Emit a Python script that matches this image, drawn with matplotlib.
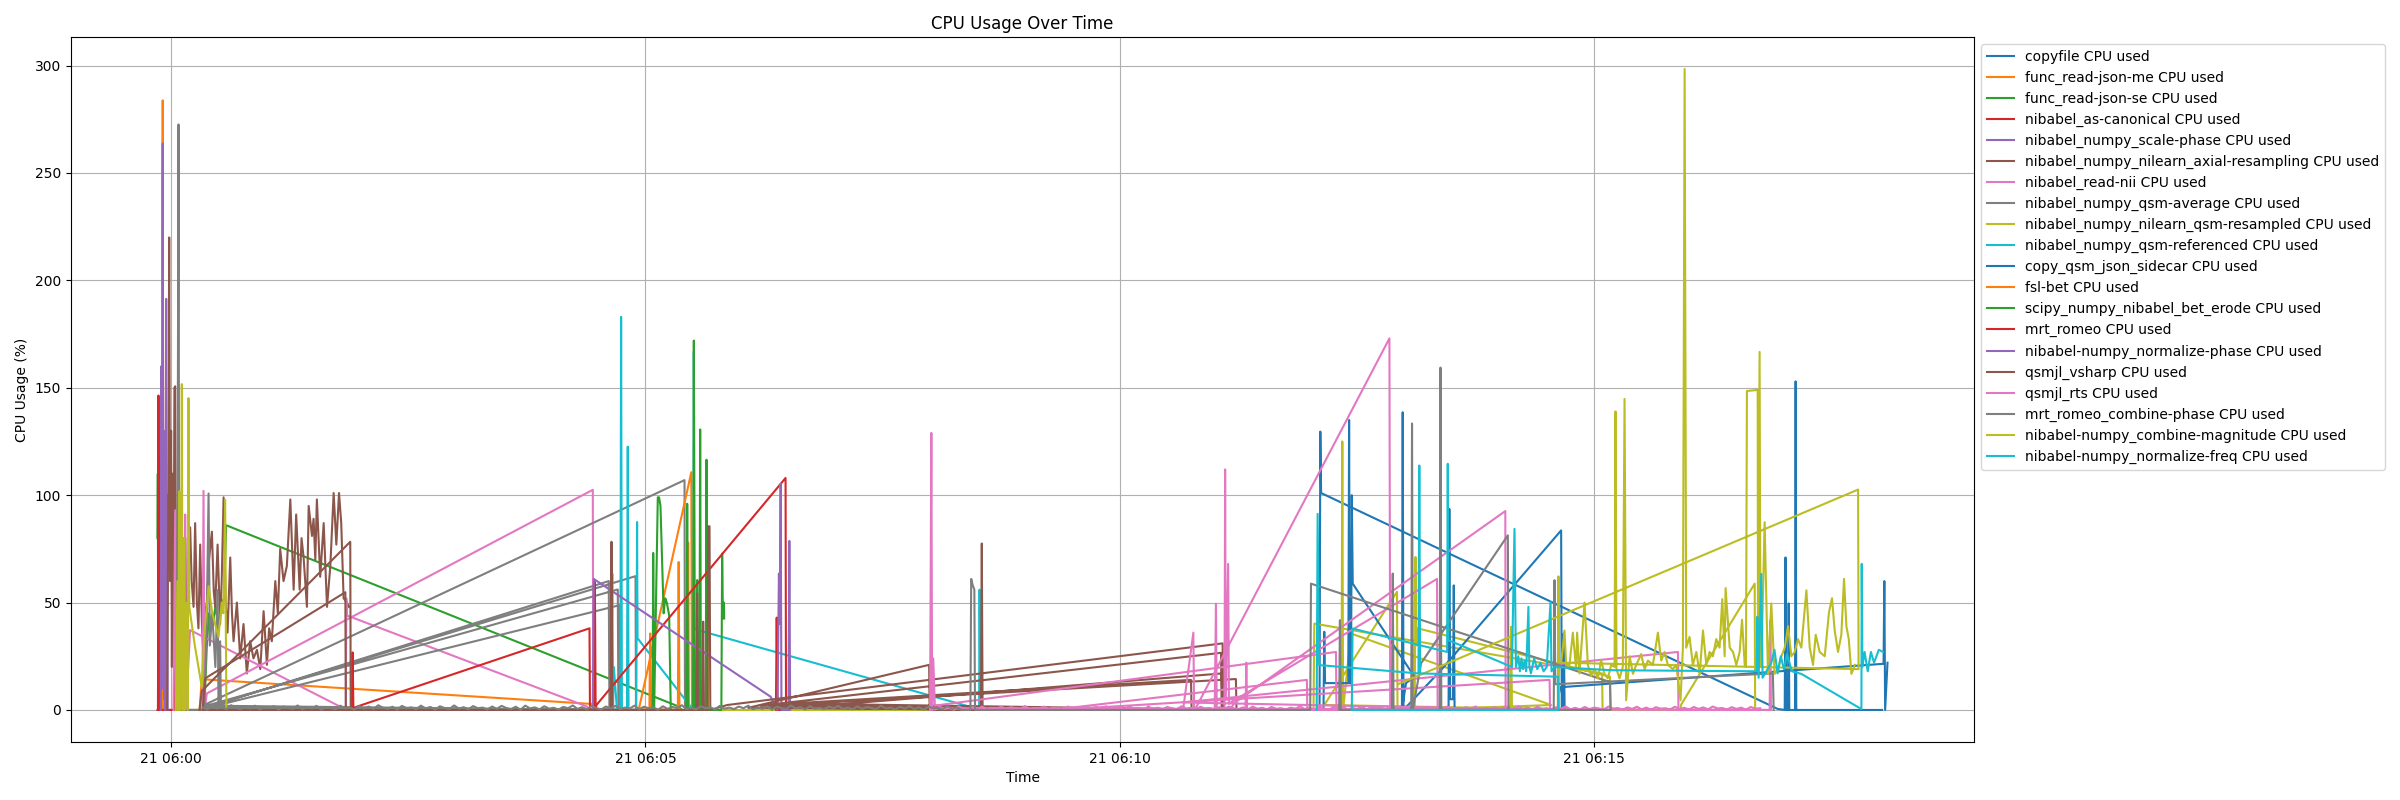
import numpy as np
import pandas as pd
import matplotlib
matplotlib.use('Agg')
import matplotlib.pyplot as plt

START = pd.Timestamp('2024-01-21 06:00:00')

LABELS = [
    'copyfile CPU used', 'func_read-json-me CPU used', 'func_read-json-se CPU used',
    'nibabel_as-canonical CPU used', 'nibabel_numpy_scale-phase CPU used',
    'nibabel_numpy_nilearn_axial-resampling CPU used', 'nibabel_read-nii CPU used',
    'nibabel_numpy_qsm-average CPU used', 'nibabel_numpy_nilearn_qsm-resampled CPU used',
    'nibabel_numpy_qsm-referenced CPU used', 'copy_qsm_json_sidecar CPU used',
    'fsl-bet CPU used', 'scipy_numpy_nibabel_bet_erode CPU used', 'mrt_romeo CPU used',
    'nibabel-numpy_normalize-phase CPU used', 'qsmjl_vsharp CPU used', 'qsmjl_rts CPU used',
    'mrt_romeo_combine-phase CPU used', 'nibabel-numpy_combine-magnitude CPU used',
    'nibabel-numpy_normalize-freq CPU used',
]

# times in seconds after 06:00:00, values in %
T0 = [722, 726.3, 726.8, 727.3, 1016, 1020.5, 1021, 1021.5, 1022.6, 1023, 1023.4, 1027, 1027.4, 1027.8, 1082]
V0 = [0, 0, 129.6, 101, 0.5, 0, 71, 0, 0, 49.6, 0, 0, 153, 0, 0]

T1 = [-7, -5.8, -5.3, -4.8, 18, 19.4, 266, 268]
V1 = [0, 0, 283.8, 0, 0, 14.3, 2.8, 0]

T2 = [-8.6, -8.4, -8.1, 21, 22.6, 24, 26, 28, 30, 32, 33.5, 34.8, 321, 323]
V2 = [80, 110, 0, 0, 30, 45, 38, 48, 40, 50, 52, 86, 1.6, 0]

T3 = [-8.6, -8.3, -8, -7.7, -7.2, -6.9, -6.6, 2.2, 2.6, 3]
V3 = [0, 0, 146.4, 0, 0, 119.4, 0, 0, 26.4, 0]

T4 = [-6.5, -6.2, -5.9, -5.6, -5.3, -5.0, -4.7, -4.4, -4.1, -3.8, -3.5, -3.1, -2.8, -2.5, -2.2]
V4 = [0, 160, 20, 140, 263.8, 10, 130, 5, 120, 0, 110, 191.4, 0, 100, 0]

T5 = [-2.5, -1.8, -1.2, -0.6, 0, 0.5, 0.9, 1.5, 2.1, 2.6, 3.1, 4, 5, 6, 7, 8, 9, 10, 11,
      12.05, 13, 14.2, 15.2, 16.3, 17.3, 18.4, 19.5, 20.5, 21.5, 22.6, 24, 25.8, 27, 27.9,
      29.4, 31, 32, 33.2, 34.5, 35.7, 37.4, 38.5, 39.5, 41.6, 43.7, 45.8, 47.9, 50, 52.1,
      54.3, 56.4, 58.5, 60.6, 62, 63.7, 65.9, 67.5, 69, 71.1, 73.2, 75.4, 77.5, 79.1, 81.3,
      82.5, 83.8, 85.9, 87, 89.1, 90.1, 91.2, 92.2, 94.3, 96.5, 98.6, 100.7, 102.8, 104.5,
      106.2, 107.6, 109.1, 111.2, 112.5]
V5 = [0, 90, 220, 60, 130, 20, 110, 30, 150, 150.7, 40, 0, 30, 0, 60, 5, 80, 10, 70,
      85, 60, 48, 87, 50, 38, 77, 40, 24, 45, 50, 70, 83, 55, 48, 77, 40, 60, 99, 50, 36, 71,
      45, 32, 50, 24, 40, 17, 32, 24, 28, 19, 46, 21, 38, 32, 60, 45, 75, 60, 67, 98, 56, 91,
      56, 80, 71, 48, 95, 81, 89, 70, 98, 62, 87, 48, 67, 101, 77, 101, 87, 52, 50, 48]

T6 = [1.5, 2.6, 3.2, 8.3, 8.9, 9.5, 12, 104.9, 110.5, 110.8, 111.2, 263, 264, 19.8, 20.5, 21.2, 22.6, 266.7, 267]
V6 = [0, 93, 0, 0, 91, 0, 37.2, 2.3, 0, 52, 44, 1.6, 0, 0, 102, 0, 7.7, 102.5, 0]

T7 = [3.5, 4.2, 4.7, 5.2, 21, 22.5, 23.7, 24.5, 26, 28, 29.4, 30, 31, 31.5, 20, 324.7, 325,
      21, 293.7, 294, 22, 276.8, 277.2, 22.5, 282.5, 282.9, 23, 283.8, 284.2]
V7 = [0, 120, 272.6, 0, 0, 40, 100.8, 30, 45, 20, 55.8, 0, 32, 0, 2, 107, 0,
      1, 62.3, 0, 1, 60, 0, 2, 56.1, 0, 1, 48.8, 0]

T8 = [3, 4, 4.5, 5.1, 5.6, 6.3, 6.8, 7.3, 8, 8.5, 9.5, 10.5, 11, 11.5, 15, 19.4, 21, 23.7,
      26, 30, 32, 33, 34.2, 34.6, 35,
      722.5, 723, 905, 905.3, 729.3, 775.3, 775.6, 740.2, 740.7, 741.2, 746.2, 872.8, 786.5,
      787, 787.4, 788.4, 910, 910.3, 847, 847.5, 848, 877, 877.4, 877.8,
      954.5, 955, 1001.5, 1001.8]
V8 = [0, 60, 0, 101.8, 0, 40, 151.7, 0, 80, 0, 50, 0, 145.2, 48, 30, 10.8, 35, 57.7,
      45, 34, 50, 45, 97.8, 40, 0,
      0, 40.2, 17, 0, 2.3, 55, 0, 0, 125, 0, 35.6, 2.3, 0,
      71.2, 30, 38, 15.5, 0, 0, 38.7, 0, 0, 62.2, 0,
      0, 2.5, 58.8, 0]

T9 = [278.5, 279, 279.5, 280, 282, 284.1, 284.6, 285.1, 288.3, 288.8, 289.3, 294.2, 294.7,
      295, 330.2, 330.6, 331.1, 511, 511.3, 511.8]
V9 = [0, 63.5, 0, 20, 0, 0, 183, 0, 0, 122.6, 0, 0, 87.5, 33.4, 0, 167, 37.6, 0.3, 56, 0]

T10 = [724, 728.8, 729.3, 729.8, 744.5, 745, 745.5, 746.2, 746.7, 747.3, 786.3, 781, 778.4,
       778.9, 779.4, 803.2, 879.1, 879.5, 807.9, 808.4, 808.9, 810.7, 811.2, 811.7, 880.3,
       880.8, 881.3, 879, 1083, 1083.5, 1084, 1085.5]
V10 = [0, 0, 36.4, 12.5, 12.5, 135, 12.5, 12.5, 100, 58.8, 15.5, 12.5, 0,
       138.6, 0, 18.6, 83.6, 0, 0, 93.6, 5, 5, 58, 0, 0,
       35.6, 0, 10.6, 21.5, 60, 0, 22]

T11 = [290, 302.5, 303, 303.5, 320.5, 321, 321.5, 295.8, 329, 329.4, 326.5, 327, 327.5, 338.5, 339, 339.5, 345]
V11 = [0, 0, 35.6, 0, 0, 68.9, 0, 0.3, 110.7, 0, 0, 78, 0, 0, 85, 0, 0]

T12 = [303, 304.5, 304.9, 305.5, 307.8, 308.6, 309.5, 310.5, 311.5, 312.5, 313.5, 315, 316,
       325.9, 326.4, 326.9, 330.1, 330.6, 331.1, 332.2, 332.7, 333.2, 334.1, 334.6, 335.1,
       338.1, 338.6, 339.1, 348, 348.5, 349, 349.6, 349.8]
V12 = [0, 0, 73.1, 0, 99, 99, 95, 70, 45, 52, 50, 44, 0,
       0, 96, 0, 0, 172, 0, 0, 60.5, 0, 0, 130.6, 0,
       0, 116.5, 0, 0, 72.8, 42.6, 50, 42.6]

T13 = [114.3, 114.8, 115.3, 117.7, 264.6, 264.9, 267.5, 268, 268.5, 269, 388.6, 388.9, 382.5, 383, 383.5]
V13 = [0, 26.8, 0, 1.6, 38, 0, 0, 59.6, 0, 2.3, 108, 0, 0, 43, 0]

T14 = [265, 266.7, 267.3, 379.1, 383.5, 384.4, 384.9, 385.5, 386, 390.5, 391, 391.5]
V14 = [0, 0, 61, 6.2, 0, 63.5, 40, 105.3, 0, 0, 78.7, 0]

T15 = [18, 19.4, 113.3, 113.6, 20, 21.5, 110.2, 110.5, 278, 278.5, 279, 332.2, 332.7, 333.2,
       336, 336.5, 337, 339.2, 339.7, 340.5, 341, 351.7, 665, 665.4, 372.8, 664, 664.4, 381,
       673.4, 673.8, 391.8, 645, 645.4, 365, 479.4, 479.7, 512.2, 512.7, 513.2, 395, 664.5, 664.8]
V15 = [0, 8.8, 78.3, 0, 0, 14.7, 54.8, 0, 0, 78.3, 0, 0, 54.3, 0,
       0, 41.1, 0, 0, 85.5, 85.5, 0, 2.3, 31, 0, 2, 26.6, 0, 2,
       14.4, 0, 3, 14, 0, 1, 21, 0, 0, 77.5, 0, 1, 17, 0]

T16 = [480, 480.8, 481.3, 482, 483, 736.7, 737,
       640, 646.5, 647, 648, 770.5, 771,
       660, 660.8, 661.3, 666.2, 666.6, 667, 668.5, 669, 800.6, 801,
       670, 672, 843.8, 844,
       557, 718.3, 718.6, 679.5, 680, 680.5,
       560, 871.8, 872.1,
       640, 953, 953.3, 1011, 1011.4, 1011.8]
V16 = [0, 129, 0, 24, 2, 27, 0,
       0, 36, 0, 0.8, 173, 0,
       0, 49.5, 0, 0, 112, 5, 68, 3, 61, 0,
       0, 3, 92.6, 0,
       0, 14, 0, 0, 22, 0,
       0, 14, 0,
       3.5, 27, 0, 0, 41.8, 0]

# low-level background samples (every 3 s)
P_FUZZ_START = 480
P_FUZZ_STEP = 3
P_FUZZ = [0.8, 0.2, 1.5, 0.5, 1.2, 0.1, 1.7, 0.7, 0.3, 1.4, 0.4, 1.6, 0.2, 1.0, 0.6, 1.5,
          0.3, 1.3, 0.8, 0.4, 1.8, 0.3, 1.0, 0.5, 1.6, 0.2, 1.1, 0.7, 0.2, 1.6, 0.6, 0.9,
          0.1, 1.4, 0.4, 1.3, 0.3, 1.7, 0.8, 0.4, 1.2, 0.1, 1.5, 0.6, 1.0, 0.2, 1.6, 0.5,
          1.1, 0.2, 1.4, 0.7, 0.3, 1.7, 0.5, 1.0, 0.2, 1.5, 0.6, 0.9, 0.1, 1.3, 0.4, 1.6,
          0.7, 0.3, 1.2, 0.1, 1.6, 0.5, 1.0, 0.2, 1.4, 0.5, 0.8, 0.2, 1.1, 0.6, 1.7, 0.4,
          1.0, 0.2, 1.5, 0.7, 0.1, 1.3, 0.6, 1.5, 0.3, 0.9, 0.5, 1.6, 0.2, 1.2, 0.6, 1.0,
          0.1, 1.4, 0.4, 1.1, 0.7, 1.8, 0.3, 0.8, 0.2, 1.5, 0.6, 1.1, 0.2, 1.6, 0.5, 0.9,
          0.3, 1.3, 0.6, 1.6, 0.2, 1.0, 0.4, 1.4, 0.1, 1.2, 0.7, 0.3, 1.7, 0.5, 1.1, 0.2,
          1.5, 0.5, 0.8, 0.2, 1.3, 0.6, 1.6, 0.3, 1.0, 0.2, 1.4, 0.4, 1.1, 0.7, 0.2, 1.6,
          0.6, 0.9, 0.1, 1.2, 0.5, 1.5, 0.3, 1.1, 0.1, 1.3, 0.6, 0.8, 0.2, 1.5, 0.4, 1.0,
          0.2, 1.4, 0.5, 1.2, 0.3, 1.6, 0.7, 0.9, 0.2, 1.3, 0.5, 1.1, 0.1, 1.4, 0.6, 0.8]

T17 = [500, 505.5, 506, 507, 508, 508.4, 720.4, 720.9, 910, 910.4, 738.7, 739.2, 739.7,
       772.1, 772.6, 773.1, 784.3, 784.8, 785.3, 790.5, 845.4, 845.8, 802.3, 802.8, 803.3,
       874.4, 874.9, 875.4, 1013, 1013.5]
V17 = [0, 0, 61, 58, 56, 0, 0, 58.8, 13, 0, 0, 41.8, 0,
       0, 63.5, 0, 0, 133.4, 0, 21.7, 81.3, 0, 0, 159.4, 0,
       0, 60.4, 12, 17, 0]
G_FUZZ_START = 20
G_FUZZ_STEP = 3
G_FUZZ = [1.1, 0.2, 1.9, 0.6, 1.5, 0.3, 2.2, 0.9, 0.4, 1.7, 0.6, 2.0, 0.3, 1.3, 0.8, 1.8,
          0.2, 1.6, 1.0, 0.5, 2.1, 0.4, 1.2, 0.7, 1.9, 0.1, 1.4, 0.9, 0.3, 2.0, 0.8, 1.1,
          0.2, 1.8, 0.6, 1.6, 0.4, 2.2, 1.0, 0.5, 1.5, 0.1, 1.9, 0.8, 1.2, 0.3, 2.0, 0.7,
          1.4, 0.2, 1.7, 0.9, 0.4, 2.1, 0.6, 1.3, 0.3, 1.8, 0.8, 1.1, 0.2, 1.6, 0.5, 1.9,
          0.9, 0.4, 1.5, 0.1, 2.0, 0.7, 1.2, 0.3, 1.7, 0.6, 1.0, 0.2, 1.4, 0.8, 2.1, 0.5,
          1.3, 0.3, 1.8, 0.9, 0.2, 1.6, 0.7, 1.9, 0.4, 1.1, 0.6, 2.0, 0.3, 1.5, 0.8, 1.2,
          0.1, 1.7, 0.5, 1.4, 0.9, 2.2, 0.4, 1.0, 0.3, 1.8, 0.7, 1.3, 0.2, 1.9, 0.6, 1.1,
          0.4, 1.6, 0.8, 2.0, 0.3, 1.2, 0.5, 1.7, 0.1, 1.5, 0.9, 0.4, 2.1, 0.7, 1.3, 0.2,
          1.8, 0.6, 1.0, 0.3, 1.6, 0.8, 1.9, 0.4, 1.2, 0.2, 1.7, 0.5, 1.4, 0.9, 0.3, 2.0,
          0.7, 1.1, 0.2, 1.5, 0.6, 1.8, 0.4, 1.3, 0.1, 1.6, 0.8, 1.0, 0.3, 1.9, 0.5, 1.2]

T18 = [776, 1066.9, 1067.2,
       879.1, 880.2, 881.2, 882.3, 884.4, 886.5, 888.6, 889.2, 890.7, 893.9, 896, 898.1, 900.2,
       902.3, 904.4, 906.5, 908.6, 910.8, 912.9, 913.5, 914.1, 916, 918.1, 919.2, 920.2, 922.4,
       924.5, 926.6, 929.7, 931.9, 934, 937.1, 940.3, 942.4, 944.5, 946.6, 949.8, 951.9, 954.6,
       956.1, 957.2, 958.2, 960.3, 962.4, 964.6, 966.7, 968.8, 970.9, 973, 975.1, 977.2, 979.3,
       981, 982.5, 983.1, 985.7, 987.8, 989.9, 992, 993.5, 995.2, 996, 996.6, 1003.4, 1003.6,
       1004.6, 1005.2, 1005.7, 1007.8, 1009.9, 1012, 1014.1, 1016.3, 1018.4, 1020.5, 1022.6,
       1024.7, 1026.8, 1028.9, 1031, 1034.2, 1036.3, 1038.4, 1040.1, 1042.6, 1045.8, 1048.5,
       1050.4, 1052.1, 1054.2, 1056.3, 1058, 1059.5, 1061, 1062.7, 1064.8]
V18 = [12, 102.6, 19,
       22, 29, 37, 21, 21, 36, 19, 36, 17, 50, 21, 15.8, 19,
       14.7, 23, 16.8, 14.7, 21, 20, 139, 19, 14.7, 20, 144.8, 4.5, 25,
       16.8, 21, 26, 19, 23, 21, 36, 23, 27, 21, 19, 21, 4.5,
       29, 298.4, 29, 34, 21, 27, 16.8, 37, 21, 27, 25, 33, 29,
       51.6, 25, 56.7, 29, 27, 21, 27, 42, 21, 20, 148.5, 149, 20,
       166.7, 20, 21, 87.4, 16.8, 49.6, 16.8, 19, 25, 29, 39,
       25, 27, 33, 29, 55.7, 29, 21, 35, 27, 25, 45.5,
       52, 37, 27, 35, 61, 39, 33, 16.8, 21]

T19 = [724.5, 725.1, 726, 788.9, 789.4, 789.9, 877, 877.3, 746.7, 747.2, 807, 807.4, 807.8,
       848, 849.6, 850.5, 852, 853, 854, 855, 856, 857, 858.4, 859, 860, 862, 864, 866, 868,
       870, 872.4, 873, 875, 910.8, 1002.8, 1003.2, 1004, 1005.7, 1006.5, 1012, 1014, 1016,
       1018, 1020, 1022, 1025, 1031, 1069, 1069.2, 1069.6, 1071, 1073, 1075, 1077, 1080, 1082.7]
V19 = [0, 91.3, 20.9, 17, 113.8, 17, 15.5, 0, 0, 37.9, 27, 114.6, 32.5,
       20, 84.3, 20, 25, 18, 24, 19, 23, 18, 48, 20, 17, 24, 19, 22, 18,
       20, 50.3, 18, 20, 18.5, 18, 43.4, 15, 63.3, 15, 21.9, 28, 17,
       25, 19, 26, 18, 16.8, 0.4, 68, 20, 27, 18, 27, 22, 28, 27]

# assemble background samples into their series
p_t = [P_FUZZ_START + P_FUZZ_STEP * i for i in range(len(P_FUZZ))]
T16_all = T16 + p_t
V16_all = V16 + P_FUZZ
g_t = [G_FUZZ_START + G_FUZZ_STEP * i for i in range(len(G_FUZZ))]
T17_all = g_t + T17
V17_all = G_FUZZ + V17

ALL_T = [T0, T1, T2, T3, T4, T5, T6, T7, T8, T9, T10, T11, T12, T13, T14, T15,
         T16_all, T17_all, T18, T19]
ALL_V = [V0, V1, V2, V3, V4, V5, V6, V7, V8, V9, V10, V11, V12, V13, V14, V15,
         V16_all, V17_all, V18, V19]

fig = plt.figure(figsize=(24, 8), dpi=100)
ax = fig.add_subplot(111)
fig.subplots_adjust(left=71 / 2400, right=1974 / 2400, bottom=1 - 742 / 800, top=1 - 37 / 800)

for lab, t, v in zip(LABELS, ALL_T, ALL_V):
    n = min(len(t), len(v))
    x = START + pd.to_timedelta(np.asarray(t[:n], dtype=float), unit='s')
    ax.plot(x, v[:n], label=lab)

ax.set_title('CPU Usage Over Time')
ax.set_xlabel('Time')
ax.set_ylabel('CPU Usage (%)')
ax.grid(True)
ax.legend(loc='upper left', bbox_to_anchor=(1, 1))

fig.savefig('out.png', dpi=100)
